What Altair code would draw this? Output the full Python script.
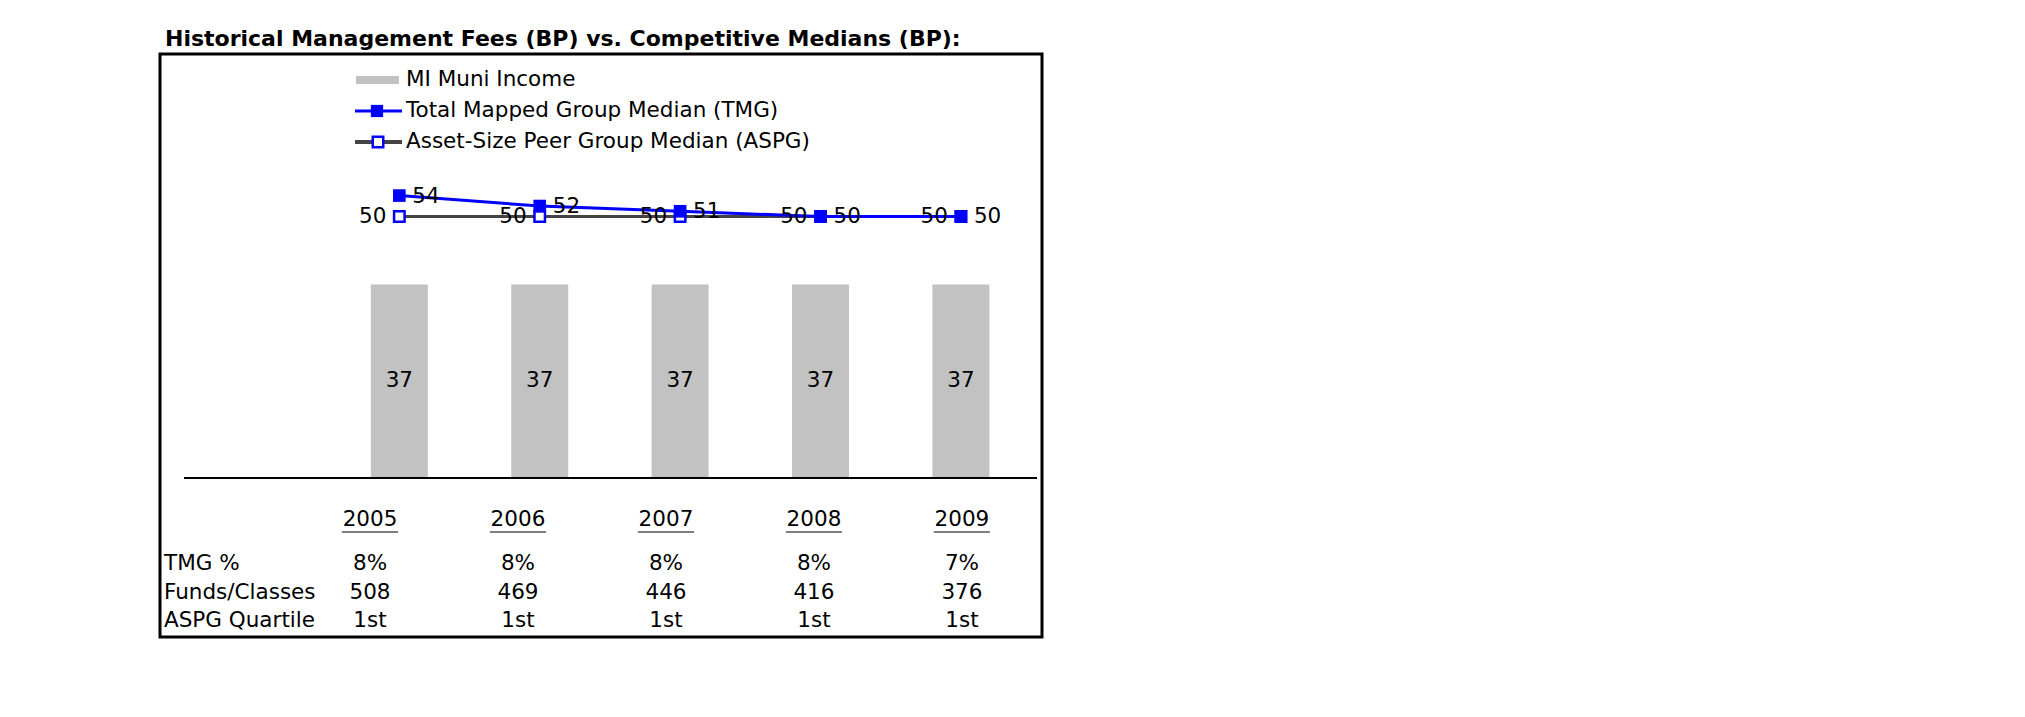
import altair as alt
import pandas as pd

# ---------------- data ----------------
years = [2005, 2006, 2007, 2008, 2009]
mi_muni_income = [37, 37, 37, 37, 37]
tmg_median = [54, 52, 51, 50, 50]
aspg_median = [50, 50, 50, 50, 50]

tmg_pct = ["8%", "8%", "8%", "8%", "7%"]
funds_classes = ["508", "469", "446", "416", "376"]
aspg_quartile = ["1st", "1st", "1st", "1st", "1st"]
row_labels = ["TMG %", "Funds/Classes", "ASPG Quartile"]

legend_items = ["MI Muni Income", "Total Mapped Group Median (TMG)",
                "Asset-Size Peer Group Median (ASPG)"]

title_text = "Historical Management Fees (BP) vs. Competitive Medians (BP):"

FONT = "DejaVu Sans"
BLUE = "#0000FF"
GRAY = "#444444"
BARC = "#c2c2c2"
FS = 21.5

# ---------------- frames ----------------
main_df = pd.DataFrame({
    "year": years,
    "fee": mi_muni_income,
    "tmg": tmg_median,
    "aspg": aspg_median,
})

table_rows = []
for lab, vals in zip(row_labels, [tmg_pct, funds_classes, aspg_quartile]):
    for y, v in zip(years, vals):
        table_rows.append({"row": lab, "year": y, "val": v})
table_df = pd.DataFrame(table_rows)
rowlab_df = pd.DataFrame({"row": row_labels})
year_df = pd.DataFrame({"year": years, "label": [str(y) for y in years]})
legend_df = pd.DataFrame({"item": legend_items})

# ---------------- main plot (bars + lines) ----------------
xs = alt.Scale(domain=[2003.331, 2009.542], nice=False, zero=False)
ys = alt.Scale(domain=[-30.4, 81.07], nice=False, zero=False)
X = alt.X("year:Q", scale=xs, axis=None)

base = alt.Chart(main_df)

bars = base.mark_bar(size=57, color=BARC).encode(
    x=X, y=alt.Y("fee:Q", scale=ys, axis=None), y2=alt.datum(0)
)
bar_labels = base.transform_calculate(mid="datum.fee / 2").mark_text(
    font=FONT, fontSize=FS, color="black"
).encode(x=X, y=alt.Y("mid:Q", scale=ys, axis=None), text=alt.Text("fee:Q"))

aspg_line = base.mark_line(color=GRAY, strokeWidth=3).encode(
    x=X, y=alt.Y("aspg:Q", scale=ys, axis=None)
)
tmg_line = base.mark_line(color=BLUE, strokeWidth=3).encode(
    x=X, y=alt.Y("tmg:Q", scale=ys, axis=None)
)
aspg_pts = base.mark_point(shape="square", size=110, filled=False, color=BLUE,
                           fill="white", fillOpacity=1, strokeWidth=2.5, opacity=1).encode(
    x=X, y=alt.Y("aspg:Q", scale=ys, axis=None)
)
tmg_pts = base.mark_point(shape="square", size=160, filled=True, color=BLUE, opacity=1).encode(
    x=X, y=alt.Y("tmg:Q", scale=ys, axis=None)
)
aspg_lab = base.mark_text(font=FONT, fontSize=FS, align="right", dx=-13, dy=1,
                          color="black").encode(
    x=X, y=alt.Y("aspg:Q", scale=ys, axis=None), text=alt.Text("aspg:Q")
)
tmg_lab = base.mark_text(font=FONT, fontSize=FS, align="left", dx=13, dy=1,
                         color="black").encode(
    x=X, y=alt.Y("tmg:Q", scale=ys, axis=None), text=alt.Text("tmg:Q")
)
baseline = base.transform_calculate(zero="0").mark_rule(
    color="black", strokeWidth=1.5).encode(
    x=alt.value(24), x2=alt.value(877), y=alt.Y("zero:Q", scale=ys, axis=None)
)

main = alt.layer(bars, bar_labels, aspg_line, tmg_line, aspg_pts, tmg_pts,
                 aspg_lab, tmg_lab, baseline)

# ---------------- table ----------------
txs = alt.Scale(domain=[2003.581, 2009.541], nice=False, zero=False)
TX = alt.X("year:Q", scale=txs, axis=None)
trow = alt.Scale(type="point", domain=row_labels, range=[510, 567], padding=0)

cells = alt.Chart(table_df).mark_text(font=FONT, fontSize=FS, color="black").encode(
    x=TX, y=alt.Y("row:N", scale=trow, axis=None), text="val:N"
)
rowlabs = alt.Chart(rowlab_df).mark_text(font=FONT, fontSize=FS, color="black",
                                         align="left").encode(
    x=alt.value(4), y=alt.Y("row:N", scale=trow, axis=None), text="row:N"
)
year_text = alt.Chart(year_df).mark_text(font=FONT, fontSize=FS, color="black").encode(
    x=TX, y=alt.value(466), text="label:N"
)
year_ul = alt.Chart(year_df).transform_calculate(
    lo="datum.year - 0.19", hi="datum.year + 0.19"
).mark_rule(color="black", strokeWidth=1.2).encode(
    x=alt.X("lo:Q", scale=txs, axis=None), x2="hi:Q", y=alt.value(478)
)
table = alt.layer(cells, rowlabs, year_text, year_ul)

# ---------------- legend ----------------
lys = alt.Scale(type="point", domain=legend_items, range=[26, 88], padding=0)
LY = alt.Y("item:N", scale=lys, axis=None)
lbase = alt.Chart(legend_df)
leg_text = lbase.mark_text(font=FONT, fontSize=FS, align="left", color="black").encode(
    x=alt.value(246), y=LY, text="item:N"
)
leg_patch = lbase.transform_filter(alt.datum.item == legend_items[0]).mark_rule(
    color=BARC, strokeWidth=8).encode(x=alt.value(196), x2=alt.value(239), y=LY)
leg_tmg_line = lbase.transform_filter(alt.datum.item == legend_items[1]).mark_rule(
    color=BLUE, strokeWidth=3).encode(x=alt.value(195), x2=alt.value(242), y=LY)
leg_tmg_pt = lbase.transform_filter(alt.datum.item == legend_items[1]).mark_point(
    shape="square", size=150, filled=True, color=BLUE, opacity=1).encode(
    x=alt.value(217), y=LY)
leg_aspg_line = lbase.transform_filter(alt.datum.item == legend_items[2]).mark_rule(
    color=GRAY, strokeWidth=4).encode(x=alt.value(195), x2=alt.value(242), y=LY)
leg_aspg_pt = lbase.transform_filter(alt.datum.item == legend_items[2]).mark_point(
    shape="square", size=110, filled=False, color=BLUE, fill="white", fillOpacity=1,
    strokeWidth=2.5, opacity=1).encode(x=alt.value(218), y=LY)
legend = alt.layer(leg_patch, leg_tmg_line, leg_tmg_pt, leg_aspg_line, leg_aspg_pt, leg_text)

chart = alt.layer(main, table, legend).resolve_scale(
    x="independent", y="independent"
).properties(
    width=882, height=583,
    autosize=alt.AutoSizeParams(type="none"),
    padding={"left": 152, "top": 46, "right": 10, "bottom": 10},
    title=alt.TitleParams(title_text, anchor="start", font=FONT, fontSize=22,
                          fontWeight="bold", color="black", dx=5, offset=3),
).configure_view(stroke="black", strokeWidth=3)

chart.save("out.html", embed_options={"renderer": "svg", "actions": False})
